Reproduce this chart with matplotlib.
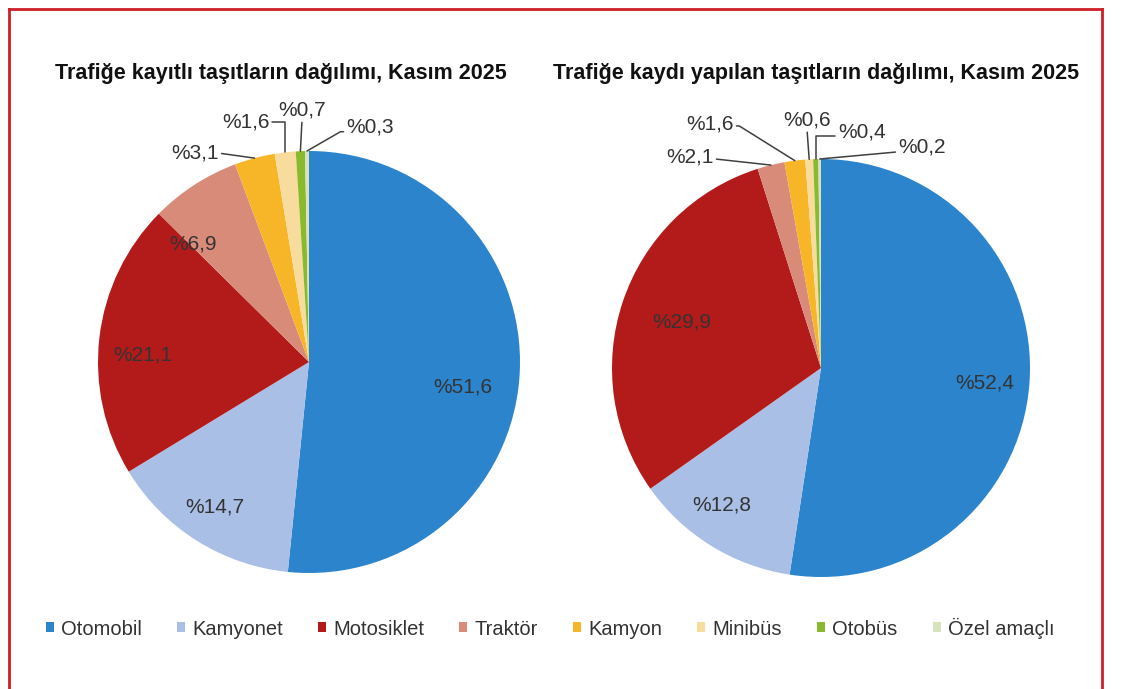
import matplotlib
matplotlib.use('Agg')
import matplotlib.pyplot as plt
from matplotlib.lines import Line2D
import numpy as np

plt.rcParams['font.family'] = ['Liberation Sans', 'DejaVu Sans']

# categories and shares (%)
categories = ['Otomobil', 'Kamyonet', 'Motosiklet', 'Traktör', 'Kamyon',
              'Minibüs', 'Otobüs', 'Özel amaçlı']
registered = [51.6, 14.7, 21.1, 6.9, 3.1, 1.6, 0.7, 0.3]
new_regs = [52.4, 12.8, 29.9, 2.1, 1.6, 0.6, 0.4, 0.2]

titles = ['Trafiğe kayıtlı taşıtların dağılımı, Kasım 2025',
          'Trafiğe kaydı yapılan taşıtların dağılımı, Kasım 2025']

colors = ['#2b84cc', '#a9bfe6', '#b31b1b', '#d98b7a', '#f6b628',
          '#f8dc9e', '#8bb92e', '#d6e3bb']

# label layout: inside labels (x, y in pie units), outside labels (x, y, relpos, connection)
inside1 = [(0.73, -0.12), (-0.445, -0.687), (-0.787, 0.033), (-0.55, 0.559)]
outside1 = [(-0.54, 0.99, (1, 0.5), 'arc3'),
            (-0.30, 1.137, (1, 0.5), 'angle,angleA=0,angleB=90,rad=0'),
            (-0.033, 1.194, (0.5, 0), 'arc3'),
            (0.29, 1.114, (0, 0.25), 'angle,angleA=0,angleB=30,rad=0')]
inside2 = [(0.785, -0.072), (-0.474, -0.656), (-0.665, 0.22)]
outside2 = [(-0.627, 1.01, (1, 0.4), 'arc3'),
            (-0.531, 1.167, (1, 0.4), 'angle,angleA=0,angleB=-32,rad=0'),
            (-0.067, 1.187, (0.5, 0), 'arc3'),
            (0.196, 1.129, (0, 0.3), 'angle,angleA=0,angleB=90,rad=0'),
            (0.483, 1.057, (0, 0.25), 'arc3')]

txt_color = '#333333'
W, H = 1132, 689


def fmt(v):
    return '%' + f'{v:.1f}'.replace('.', ',')


def draw_pie(rect, values, inside, outside):
    ax = fig.add_axes(rect)
    wedges, _ = ax.pie(values, colors=colors, startangle=90, counterclock=False,
                       radius=1, wedgeprops=dict(linewidth=0))
    ax.set_xlim(-1, 1)
    ax.set_ylim(-1, 1)
    for (x, y), v in zip(inside, values):
        ax.text(x, y, fmt(v), ha='center', va='center', fontsize=15, color=txt_color)
    small_w = wedges[len(inside):]
    small_v = values[len(inside):]
    for (x, y, rel, cs), w, v in zip(outside, small_w, small_v):
        mid = np.deg2rad((w.theta1 + w.theta2) / 2)
        ax.annotate(fmt(v), xy=(np.cos(mid), np.sin(mid)), xytext=(x, y),
                    ha='center', va='center', fontsize=15, color=txt_color,
                    arrowprops=dict(arrowstyle='-', color='#404040', lw=1.1,
                                    connectionstyle=cs, relpos=rel,
                                    shrinkA=0, shrinkB=0))
    return wedges


fig = plt.figure(figsize=(W / 100, H / 100), dpi=100)
fig.patch.set_facecolor('white')

w1 = draw_pie([98 / W, 116 / H, 422 / W, 422 / H], registered, inside1, outside1)
draw_pie([612 / W, 112 / H, 418 / W, 418 / H], new_regs, inside2, outside2)

fig.text(281 / W, 1 - 74 / H, titles[0], ha='center', va='center',
         fontsize=15.5, fontweight='bold', color='#111111')
fig.text(816 / W, 1 - 74 / H, titles[1], ha='center', va='center',
         fontsize=15.5, fontweight='bold', color='#111111')

fig.legend(w1, categories, loc='center', ncol=8, frameon=False,
           bbox_to_anchor=(550 / W, 1 - 628 / H), fontsize=14.5,
           handlelength=0.4, handleheight=0.4, handletextpad=0.35,
           columnspacing=1.75, labelcolor=txt_color)

# red frame on left, top and right
frame = dict(color='#cc1f26', lw=2, transform=fig.transFigure)
fig.add_artist(Line2D([9 / W, 9 / W], [0, 1 - 9 / H], **frame))
fig.add_artist(Line2D([9 / W, 1102 / W], [1 - 9 / H, 1 - 9 / H], **frame))
fig.add_artist(Line2D([1102 / W, 1102 / W], [0, 1 - 9 / H], **frame))

fig.savefig('out.png', dpi=100, facecolor='white')
